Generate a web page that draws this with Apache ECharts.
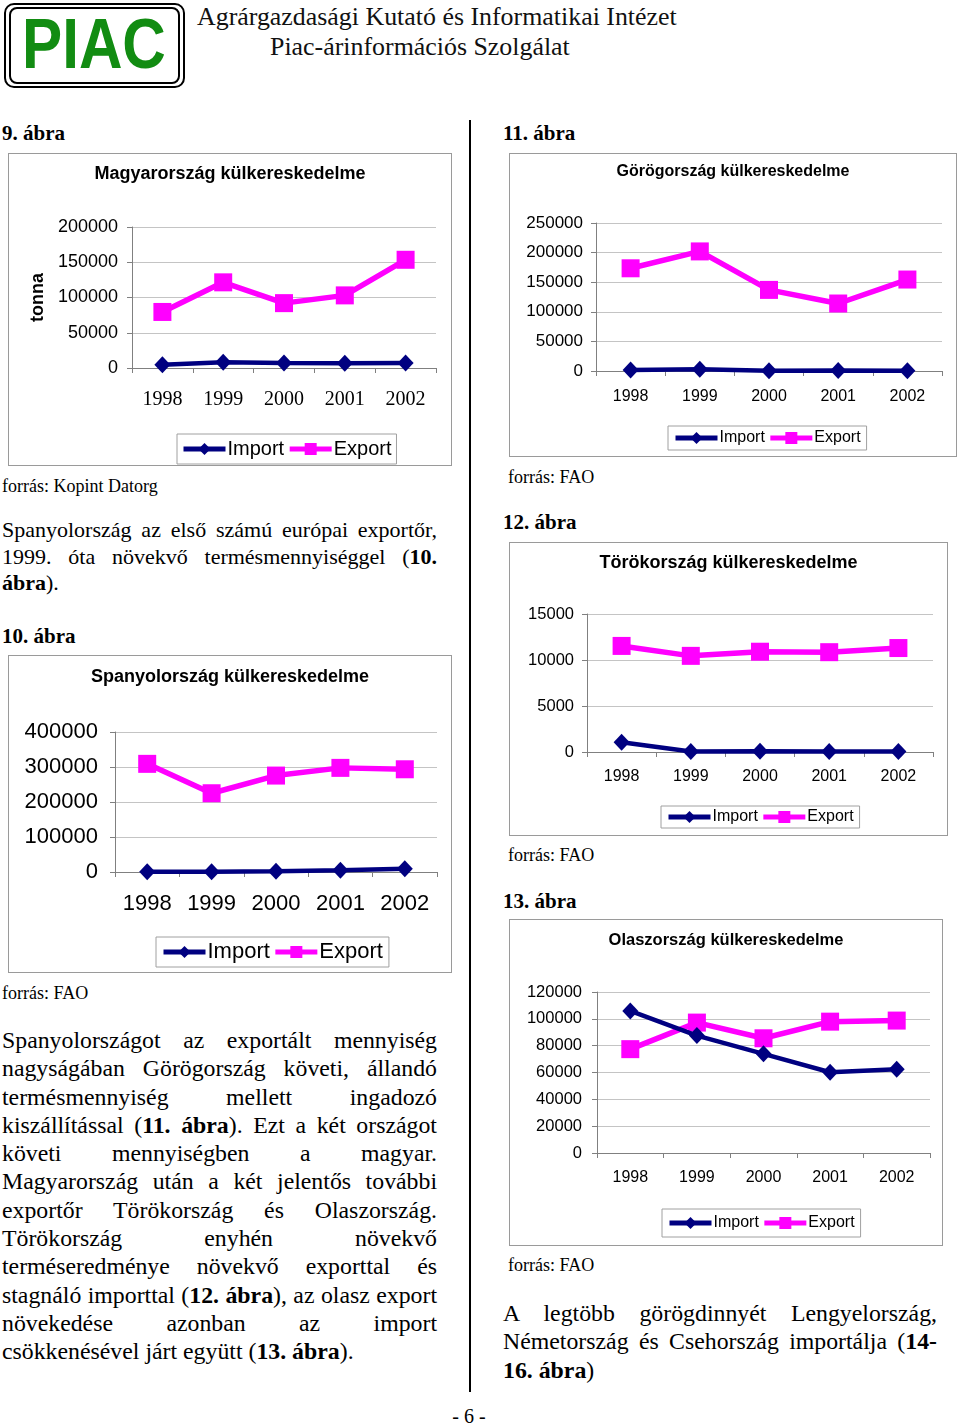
<!DOCTYPE html>
<html><head><meta charset="utf-8">
<script src="https://cdn.jsdelivr.net/npm/echarts@6/dist/echarts.min.js"></script>
<style>
body{margin:0;width:960px;height:1425px;position:relative;background:#fff;font-family:"Liberation Serif","Times New Roman",serif;color:#000;overflow:hidden}
.abs{position:absolute;white-space:nowrap}
.box{position:absolute;border:1px solid #9a9a9a;box-sizing:border-box;background:#fff}
.box>div{width:100%;height:100%}
.fig{font-weight:bold;font-size:21px;line-height:24px}
.src{font-size:18px;line-height:20px}
.p{position:absolute;font-size:23.8px;width:435px}
.p div{height:28.3px;line-height:28.3px;white-space:nowrap}
.p1{font-size:22px}
.p1 div{height:26.5px;line-height:26.5px}
</style></head>
<body>
<script>
const years = ['1998', '1999', '2000', '2001', '2002'];
const seriesNames = ['Import', 'Export'];
const huImport = [4700, 8000, 7000, 6600, 7000];
const huExport = [79500, 121500, 92000, 103000, 153500];
const grImport = [1700, 2800, 300, 1000, 500];
const grExport = [173500, 202000, 137000, 114000, 154500];
const trImport = [1050, 50, 80, 50, 50];
const trExport = [11530, 10450, 10900, 10850, 11300];
const esImport = [1000, 1000, 2000, 5000, 9500];
const esExport = [309000, 225000, 275500, 297500, 293500];
const itImport = [105900, 87500, 73900, 60200, 62500];
const itExport = [77400, 97200, 85500, 97900, 98700];
</script>

<!-- header -->
<div class="abs" style="left:4px;top:3px;width:181px;height:85px;border:2px solid #000;border-radius:10px;box-sizing:border-box"></div>
<div class="abs" style="left:9px;top:7px;width:171px;height:77px;border:2px solid #000;border-radius:8px;box-sizing:border-box"></div>
<div class="abs" style="left:22px;top:4px;width:150px;height:80px;font-family:'Liberation Sans',Arial,sans-serif;font-weight:bold;font-size:70px;line-height:80px;color:#128c12;transform:scaleX(0.86);transform-origin:left center">PIAC</div>
<div class="abs" style="left:197px;top:2px;font-size:25.9px;line-height:30px;color:#111">Agrárgazdasági Kutató és Informatikai Intézet</div>
<div class="abs" style="left:270px;top:32px;font-size:25.9px;line-height:30px;color:#111">Piac-árinformációs Szolgálat</div>

<div class="abs" style="left:469px;top:120px;width:2px;height:1272px;background:#000"></div>

<div class="abs fig" style="left:2px;top:121px">9. ábra</div>
<div class="abs fig" style="left:503px;top:121px">11. ábra</div>
<div class="abs src" style="left:2px;top:476px">forrás: Kopint Datorg</div>
<div class="abs src" style="left:508px;top:467px">forrás: FAO</div>
<div class="abs fig" style="left:503px;top:510px">12. ábra</div>
<div class="abs fig" style="left:2px;top:624px">10. ábra</div>
<div class="abs src" style="left:508px;top:845px">forrás: FAO</div>
<div class="abs fig" style="left:503px;top:889px">13. ábra</div>
<div class="abs src" style="left:2px;top:983px">forrás: FAO</div>
<div class="abs src" style="left:508px;top:1255px">forrás: FAO</div>
<div class="abs" style="left:449px;top:1404px;width:40px;text-align:center;font-size:20px;line-height:24px">- 6 -</div>

<div class="p p1" style="left:2px;top:517px">
<div class="j">Spanyolország az első számú európai exportőr,</div>
<div class="j">1999. óta növekvő termésmennyiséggel (<b>10.</b></div>
<div><b>ábra</b>).</div>
</div>

<div class="p" style="left:2px;top:1026px">
<div class="j">Spanyolországot az exportált mennyiség</div>
<div class="j">nagyságában Görögország követi, állandó</div>
<div class="j">termésmennyiség mellett ingadozó</div>
<div class="j">kiszállítással (<b>11. ábra</b>). Ezt a két országot</div>
<div class="j">követi mennyiségben a magyar.</div>
<div class="j">Magyarország után a két jelentős további</div>
<div class="j">exportőr Törökország és Olaszország.</div>
<div class="j">Törökország enyhén növekvő</div>
<div class="j">terméseredménye növekvő exporttal és</div>
<div class="j">stagnáló importtal (<b>12. ábra</b>), az olasz export</div>
<div class="j">növekedése azonban az import</div>
<div>csökkenésével járt együtt (<b>13. ábra</b>).</div>
</div>

<div class="p" style="left:503px;top:1299px;width:434px">
<div class="j">A legtöbb görögdinnyét Lengyelország,</div>
<div class="j">Németország és Csehország importálja (<b>14-</b></div>
<div><b>16. ábra</b>)</div>
</div>

<div class="box" style="left:8px;top:153px;width:444px;height:313px"><div id="c9"></div></div>
<div class="box" style="left:509px;top:153px;width:448px;height:304px"><div id="c11"></div></div>
<div class="box" style="left:509px;top:542px;width:439px;height:294px"><div id="c12"></div></div>
<div class="box" style="left:8px;top:655px;width:444px;height:318px"><div id="c10"></div></div>
<div class="box" style="left:509px;top:919px;width:434px;height:327px"><div id="c13"></div></div>

<script>
// justify lines by adjusting word-spacing so each fills its paragraph width
document.querySelectorAll('.p').forEach(p => {
  const target = p.clientWidth;
  p.querySelectorAll('div.j').forEach(d => {
    const span = document.createElement('span');
    while (d.firstChild) span.appendChild(d.firstChild);
    d.appendChild(span);
    const natural = span.getBoundingClientRect().width;
    const spaces = (span.textContent.match(/ /g) || []).length;
    if (spaces > 0) d.style.wordSpacing = ((target - natural) / spaces) + 'px';
  });
});

const SANS = '"Liberation Sans", Arial, sans-serif';
const SERIF = '"Liberation Serif", "Times New Roman", serif';
const IMP_COLOR = '#000080';
const EXP_COLOR = '#ff00ff';

function mk(id, cfg) {
  const chart = echarts.init(document.getElementById(id), null, {renderer: 'canvas'});
  chart.setOption({
    animation: false,
    title: {
      text: cfg.title, left: 'center', top: cfg.titleTop, padding: 0,
      textStyle: {fontFamily: SANS, fontWeight: 'bold', fontSize: cfg.titleSize, color: '#000'}
    },
    legend: {
      data: seriesNames, left: cfg.legend[0], top: cfg.legend[1],
      padding: cfg.legendPad, itemGap: 3, itemWidth: 42, itemHeight: 15,
      borderColor: '#a0a0a0', borderWidth: 1, borderRadius: 0,
      lineStyle: {width: 5},
      textStyle: {fontFamily: SANS, fontSize: cfg.legendSize, color: '#000', padding: [0, 0, 0, -3]}
    },
    grid: {left: cfg.grid[0], right: cfg.grid[1], top: cfg.grid[2], bottom: cfg.grid[3], containLabel: false},
    xAxis: {
      type: 'category', data: years, boundaryGap: true,
      axisLine: {lineStyle: {color: '#808080', width: 1}},
      axisTick: {show: true, length: 5, lineStyle: {color: '#808080'}},
      axisLabel: {margin: cfg.xMargin, fontSize: cfg.xSize, fontFamily: cfg.xFont, color: '#000'}
    },
    yAxis: {
      type: 'value', min: 0, max: cfg.max, interval: cfg.interval,
      name: cfg.yName || '', nameLocation: 'middle', nameRotate: 90, nameGap: cfg.nameGap || 0,
      nameTextStyle: {fontFamily: SANS, fontWeight: 'bold', fontSize: 18, color: '#000'},
      axisLine: {show: true, lineStyle: {color: '#808080', width: 1}},
      axisTick: {show: true, length: 5, lineStyle: {color: '#808080'}},
      splitLine: {show: true, lineStyle: {color: '#c4c4c4', width: 1}},
      axisLabel: {margin: cfg.yMargin, fontSize: cfg.ySize, fontFamily: SANS, color: '#000',
                  formatter: v => String(v)}
    },
    series: [
      {name: 'Import', type: 'line', data: cfg.imp, symbol: 'diamond', symbolSize: [16, 17],
       itemStyle: {color: IMP_COLOR}, lineStyle: {width: 4.5, color: IMP_COLOR}, z: 3},
      {name: 'Export', type: 'line', data: cfg.exp, symbol: 'rect', symbolSize: 18,
       itemStyle: {color: EXP_COLOR}, lineStyle: {width: 5.5, color: EXP_COLOR}, z: 2}
    ]
  });
}

mk('c9', {title: 'Magyarország külkereskedelme', titleSize: 18, titleTop: 11,
  legend: [168, 280], legendPad: [5, 5, 5, 4], legendSize: 20,
  grid: [123, 15, 73, 97], max: 200000, interval: 50000,
  xMargin: 22, xSize: 20, xFont: SERIF, yMargin: 14, ySize: 18,
  yName: 'tonna', nameGap: 85, imp: huImport, exp: huExport});

mk('c11', {title: 'Görögország külkereskedelme', titleSize: 16, titleTop: 10,
  legend: [158, 272], legendPad: [4, 6, 4, 5], legendSize: 16,
  grid: [86, 14, 69, 85], max: 250000, interval: 50000,
  xMargin: 18, xSize: 16, xFont: SANS, yMargin: 13, ySize: 17,
  imp: grImport, exp: grExport});

mk('c12', {title: 'Törökország külkereskedelme', titleSize: 18, titleTop: 11,
  legend: [151, 263], legendPad: [3, 6, 3, 5], legendSize: 16,
  grid: [77, 14, 71, 83], max: 15000, interval: 5000,
  xMargin: 17, xSize: 16, xFont: SANS, yMargin: 13, ySize: 16.5,
  imp: trImport, exp: trExport});

mk('c10', {title: 'Spanyolország külkereskedelme', titleSize: 18, titleTop: 12,
  legend: [147, 281], legendPad: [4, 6, 4, 5], legendSize: 22,
  grid: [106, 14, 76, 100], max: 400000, interval: 100000,
  xMargin: 21, xSize: 22, xFont: SANS, yMargin: 17, ySize: 22,
  imp: esImport, exp: esExport});

mk('c13', {title: 'Olaszország külkereskedelme', titleSize: 16.5, titleTop: 12,
  legend: [152, 289], legendPad: [6, 6, 6, 5], legendSize: 16,
  grid: [87, 12, 72, 92], max: 120000, interval: 20000,
  xMargin: 17, xSize: 16, xFont: SANS, yMargin: 15, ySize: 16.5,
  imp: itImport, exp: itExport});
</script>
</body></html>
